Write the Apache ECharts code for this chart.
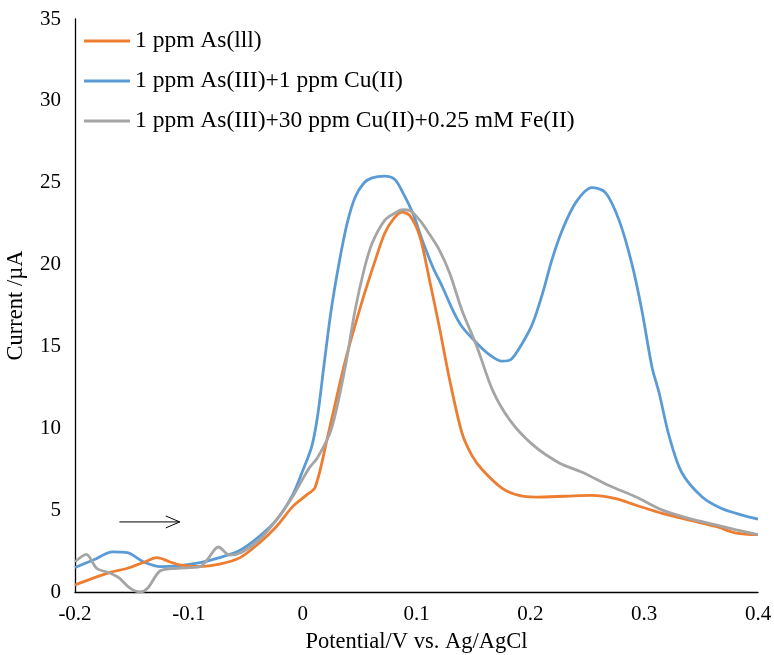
<!DOCTYPE html>
<html>
<head>
<meta charset="utf-8">
<script src="https://cdn.jsdelivr.net/npm/echarts@6/dist/echarts.min.js"></script>
<style>html,body{margin:0;padding:0;background:#fff;}#c{width:774px;height:655px;}</style>
</head>
<body>
<div id="c"></div>
<script>
var seriesNames = ['1 ppm As(lll)', '1 ppm As(III)+1 ppm Cu(II)', '1 ppm As(III)+30 ppm Cu(II)+0.25 mM Fe(II)'];
var xTicks = [-0.2, -0.1, 0, 0.1, 0.2, 0.3, 0.4];
var yTicks = [0, 5, 10, 15, 20, 25, 30, 35];

var orangeV = [-0.2,-0.184,-0.169,-0.154,-0.14,-0.128,-0.117,-0.108,-0.09,-0.073,-0.055,-0.038,-0.023,-0.009,0.003,0.011,0.022,0.037,0.052,0.063,0.072,0.08,0.087,0.094,0.103,0.111,0.12,0.129,0.14,0.149,0.158,0.175,0.19,0.205,0.231,0.254,0.275,0.293,0.316,0.339,0.363,0.381,0.4];
var orangeI = [0.43,0.85,1.2,1.45,1.8,2.1,1.85,1.65,1.55,1.7,2.1,3.0,4.0,5.2,5.9,6.4,9.5,14.0,17.7,20.1,21.9,22.8,23.2,23.0,21.7,19.2,16.2,13.0,9.7,8.3,7.45,6.35,5.9,5.8,5.85,5.9,5.7,5.3,4.8,4.4,4.0,3.6,3.5];

var blueV = [-0.2,-0.184,-0.167,-0.154,-0.14,-0.125,-0.11,-0.09,-0.073,-0.055,-0.038,-0.023,-0.009,0.0,0.008,0.013,0.019,0.025,0.032,0.039,0.046,0.054,0.061,0.072,0.081,0.088,0.097,0.105,0.114,0.123,0.132,0.14,0.153,0.164,0.175,0.183,0.193,0.202,0.211,0.219,0.228,0.24,0.254,0.266,0.278,0.289,0.298,0.307,0.313,0.322,0.333,0.351,0.368,0.386,0.4];
var blueI = [1.5,1.95,2.45,2.4,1.85,1.55,1.6,1.8,2.1,2.55,3.4,4.4,5.9,7.4,8.9,10.7,14.0,17.2,20.1,22.5,24.1,25.0,25.3,25.4,25.2,24.4,23.1,21.5,19.9,18.6,17.2,16.2,15.2,14.5,14.1,14.2,15.2,16.4,18.3,20.3,22.1,23.8,24.7,24.4,22.7,20.1,17.2,13.7,12.2,9.5,7.3,5.8,5.1,4.7,4.45];

var grayV = [-0.2,-0.19,-0.181,-0.169,-0.161,-0.152,-0.143,-0.136,-0.125,-0.11,-0.09,-0.084,-0.074,-0.064,-0.053,-0.038,-0.023,-0.009,0.0,0.006,0.013,0.025,0.037,0.046,0.054,0.061,0.072,0.08,0.088,0.094,0.103,0.111,0.12,0.129,0.14,0.153,0.167,0.182,0.202,0.225,0.246,0.269,0.293,0.316,0.339,0.363,0.381,0.4];
var grayI = [1.85,2.3,1.45,1.15,0.85,0.25,0.0,0.25,1.3,1.45,1.55,1.95,2.75,2.25,2.45,3.2,4.4,5.8,6.9,7.6,8.2,9.9,13.6,17.2,19.7,21.3,22.7,23.1,23.35,23.3,22.7,21.9,20.9,19.5,17.2,15.0,12.3,10.5,9.0,7.9,7.3,6.5,5.8,5.0,4.5,4.1,3.8,3.5];

var arrowV = [-0.161, -0.108];
var arrowI = [4.28, 4.28];

var colors = ['#ED7D31', '#5B9BD5', '#A5A5A5'];
var FONT = '"Liberation Serif", "Times New Roman", serif';

function pairs(xs, ys) { return xs.map(function (x, i) { return [x, ys[i]]; }); }

var chart = echarts.init(document.getElementById('c'), null, {renderer: 'canvas'});
var option = {
  animation: false,
  color: colors,
  textStyle: {fontFamily: FONT},
  grid: {left: 75, right: 16, top: 19, bottom: 63, containLabel: false, outerBoundsMode: 'none'},
  legend: {
    orient: 'vertical', left: 84, top: 27, padding: 0,
    itemWidth: 46, itemHeight: 3, itemGap: 12, icon: 'rect',
    textStyle: {fontFamily: FONT, fontSize: 23.5, lineHeight: 28, color: '#000'},
    data: seriesNames
  },
  xAxis: {
    type: 'value', min: -0.2, max: 0.4, interval: 0.1,
    name: 'Potential/V vs. Ag/AgCl', nameLocation: 'middle', nameGap: 39,
    nameTextStyle: {fontFamily: FONT, fontSize: 22.5, color: '#000'},
    axisLine: {show: true, onZero: false, lineStyle: {color: '#000', width: 1.3}},
    axisTick: {show: false},
    splitLine: {show: false},
    axisLabel: {fontFamily: FONT, fontSize: 21, color: '#000', margin: 12,
      formatter: function (v) { var r = Math.round(v * 10) / 10; return r === 0 ? '0' : String(r); }}
  },
  yAxis: {
    type: 'value', min: 0, max: 35, interval: 5,
    name: 'Current /µA', nameLocation: 'middle', nameGap: 47, nameRotate: 90,
    nameTextStyle: {fontFamily: FONT, fontSize: 22.5, color: '#000'},
    axisLine: {show: true, onZero: false, lineStyle: {color: '#000', width: 1.3}},
    axisTick: {show: false},
    splitLine: {show: false},
    axisLabel: {fontFamily: FONT, fontSize: 21, color: '#000', margin: 14}
  },
  series: [
    {name: seriesNames[0], type: 'line', symbol: 'none', smooth: 0.3, data: pairs(orangeV, orangeI), lineStyle: {width: 2.8}, z: 3},
    {name: seriesNames[1], type: 'line', symbol: 'none', smooth: 0.3, data: pairs(blueV, blueI), lineStyle: {width: 2.8}, z: 2},
    {name: seriesNames[2], type: 'line', symbol: 'none', smooth: 0.3, data: pairs(grayV, grayI), lineStyle: {width: 2.8}, z: 4}
  ]
};
chart.setOption(option);

var p0 = chart.convertToPixel({gridIndex: 0}, [arrowV[0], arrowI[0]]);
var p1 = chart.convertToPixel({gridIndex: 0}, [arrowV[1], arrowI[1]]);
chart.setOption({
  graphic: [
    {type: 'polyline', shape: {points: [p0, p1]}, style: {stroke: '#000', lineWidth: 1, fill: null}, z: 10},
    {type: 'polyline', shape: {points: [[p1[0] - 14, p1[1] - 6], p1, [p1[0] - 14, p1[1] + 6]]}, style: {stroke: '#000', lineWidth: 1, fill: null}, z: 10}
  ]
});
</script>
</body>
</html>
